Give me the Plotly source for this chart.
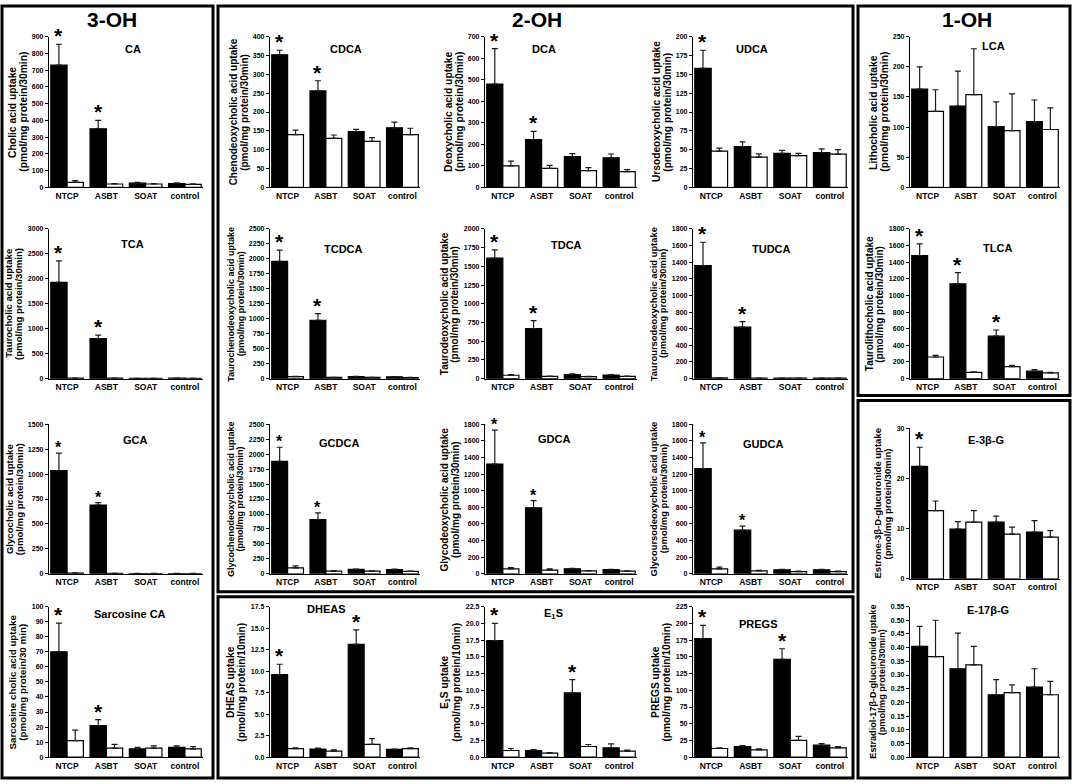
import plotly.graph_objects as go

categories = ["NTCP", "ASBT", "SOAT", "control"]

# ---- data: mean uptake (black = induced, white = non-induced) and SD ----
ca_ind = [730, 350, 25, 22];          ca_ind_err = [125, 50, 5, 5]
ca_non = [30, 20, 20, 18];            ca_non_err = [10, 3, 3, 3]
ca_star = [0, 1]

tca_ind = [1930, 800, 5, 8];          tca_ind_err = [430, 70, 2, 2]
tca_non = [10, 8, 5, 5];              tca_non_err = [2, 2, 1, 1]
tca_star = [0, 1]

gca_ind = [1035, 690, 3, 3];          gca_ind_err = [175, 25, 1, 1]
gca_non = [8, 5, 3, 3];               gca_non_err = [1, 1, 1, 1]
gca_star = [0, 1]

sca_ind = [70, 21, 5.5, 6.5];         sca_ind_err = [19, 4, 1, 1]
sca_non = [11, 6, 6, 5.5];            sca_non_err = [7, 2.5, 1.5, 1.5]
sca_star = [0, 1]

cdca_ind = [352, 256, 148, 158];      cdca_ind_err = [12, 27, 6, 15]
cdca_non = [140, 130, 122, 140];      cdca_non_err = [12, 9, 10, 17]
cdca_star = [0, 1]

dca_ind = [480, 222, 143, 137];       dca_ind_err = [165, 38, 14, 18]
dca_non = [100, 88, 78, 73];          dca_non_err = [22, 14, 14, 9]
dca_star = [0, 1]

udca_ind = [158, 54, 45, 46];         udca_ind_err = [24, 6.5, 4, 5]
udca_non = [48, 40, 42, 44];          udca_non_err = [4, 4.5, 3, 6]
udca_star = [0]

tcdca_ind = [1960, 975, 35, 30];      tcdca_ind_err = [185, 110, 5, 5]
tcdca_non = [35, 20, 20, 18];         tcdca_non_err = [5, 3, 3, 3]
tcdca_star = [0, 1]

tdca_ind = [1610, 670, 55, 48];       tdca_ind_err = [110, 105, 8, 6]
tdca_non = [45, 30, 28, 30];          tdca_non_err = [8, 4, 4, 4]
tdca_star = [0, 1]

tudca_ind = [1360, 620, 5, 5];        tudca_ind_err = [280, 65, 1, 1]
tudca_non = [10, 5, 5, 5];            tudca_non_err = [2, 1, 1, 1]
tudca_star = [0, 1]

gcdca_ind = [1880, 905, 75, 72];      gcdca_ind_err = [235, 115, 6, 6]
gcdca_non = [100, 45, 45, 40];        gcdca_non_err = [35, 8, 6, 6]
gcdca_star = [0, 1]

gdca_ind = [1320, 795, 60, 50];       gdca_ind_err = [410, 85, 5, 5]
gdca_non = [60, 45, 35, 32];          gdca_non_err = [15, 15, 4, 4]
gdca_star = [0, 1]

gudca_ind = [1265, 525, 48, 48];      gudca_ind_err = [310, 50, 5, 5]
gudca_non = [60, 35, 28, 28];         gudca_non_err = [20, 8, 4, 4]
gudca_star = [0, 1]

dheas_ind = [9.6, 0.95, 13.1, 0.9];   dheas_ind_err = [1.2, 0.1, 1.7, 0.05]
dheas_non = [1.0, 0.7, 1.5, 1.0];     dheas_non_err = [0.1, 0.15, 0.65, 0.1]
dheas_star = [0, 2]

e1s_ind = [17.4, 1.0, 9.6, 1.4];      e1s_ind_err = [2.6, 0.15, 2.0, 0.6]
e1s_non = [1.0, 0.6, 1.6, 0.9];       e1s_non_err = [0.3, 0.1, 0.3, 0.15]
e1s_star = [0, 2]

pregs_ind = [177, 16, 146, 18];       pregs_ind_err = [20, 1.5, 16, 2.5]
pregs_non = [13, 11, 25, 14];         pregs_non_err = [1, 1.5, 6, 2]
pregs_star = [0, 2]

lca_ind = [163, 135, 101, 109];       lca_ind_err = [37, 58, 41, 36]
lca_non = [126, 154, 94, 96];         lca_non_err = [36, 76, 61, 36]
lca_star = []

tlca_ind = [1480, 1140, 510, 90];     tlca_ind_err = [140, 135, 75, 20]
tlca_non = [260, 75, 145, 70];        tlca_non_err = [20, 5, 15, 5]
tlca_star = [0, 1, 2]

e3g_ind = [22.4, 9.9, 11.3, 9.3];     e3g_ind_err = [3.8, 1.5, 1.2, 2.3]
e3g_non = [13.6, 11.3, 8.9, 8.3];     e3g_non_err = [1.9, 2.3, 1.4, 1.3]
e3g_star = [0]

e17g_ind = [0.405, 0.323, 0.228, 0.256]; e17g_ind_err = [0.073, 0.13, 0.055, 0.067]
e17g_non = [0.367, 0.337, 0.236, 0.228]; e17g_non_err = [0.133, 0.068, 0.028, 0.049]
e17g_star = []

# ---- layout geometry (pixels) ----
W, H = 1072, 784
COLS = {"A": (49, 203), "B": (270, 420), "C": (485, 637), "D": (693, 848), "E": (910, 1060)}
ROWS = {1: (33, 185), 2: (227, 378), 3: (424, 575), 4: (608, 760), 5: (428, 580)}

U30 = "(pmol/mg protein/30min)"
U10 = "(pmol/mg protein/10min)"

panels = [
    # name, col, row, title, title px, ylabel lines, ymax, dtick, fmt, ytitle size, star size, data
    ("CA", "A", 1, "CA", (133, 45), ("Cholic acid uptake", U30), 900, 100, "d", 10.3, 21,
     ca_ind, ca_ind_err, ca_non, ca_non_err, ca_star),
    ("TCA", "A", 2, "TCA", (132, 242), ("Taurocholic acid uptake", U30), 3000, 500, "d", 9.6, 21,
     tca_ind, tca_ind_err, tca_non, tca_non_err, tca_star),
    ("GCA", "A", 3, "GCA", (135, 440), ("Glycocholic acid uptake", U30), 1500, 250, "d", 9.6, 16,
     gca_ind, gca_ind_err, gca_non, gca_non_err, gca_star),
    ("SCA", "A", 4, "Sarcosine CA", (130, 615), ("Sarcosine cholic acid uptake", "(pmol/mg protein/30 min)"),
     100, 10, "d", 9.8, 21, sca_ind, sca_ind_err, sca_non, sca_non_err, sca_star),
    ("CDCA", "B", 1, "CDCA", (346, 45), ("Chenodeoxycholic acid uptake", U30), 400, 50, "d", 10, 21,
     cdca_ind, cdca_ind_err, cdca_non, cdca_non_err, cdca_star),
    ("DCA", "C", 1, "DCA", (544, 45), ("Deoxycholic acid uptake", U30), 700, 100, "d", 10.3, 21,
     dca_ind, dca_ind_err, dca_non, dca_non_err, dca_star),
    ("UDCA", "D", 1, "UDCA", (752, 45), ("Ursodeoxycholic acid uptake", U30), 200, 25, "d", 10.2, 21,
     udca_ind, udca_ind_err, udca_non, udca_non_err, udca_star),
    ("TCDCA", "B", 2, "TCDCA", (343, 247), ("Taurochenodeoxycholic acid uptake", U30), 2500, 250, "d", 9, 21,
     tcdca_ind, tcdca_ind_err, tcdca_non, tcdca_non_err, tcdca_star),
    ("TDCA", "C", 2, "TDCA", (566, 243), ("Taurodeoxycholic acid uptake", U30), 2000, 250, "d", 10, 21,
     tdca_ind, tdca_ind_err, tdca_non, tdca_non_err, tdca_star),
    ("TUDCA", "D", 2, "TUDCA", (771, 247), ("Tauroursodeoxycholic acid uptake", U30), 1800, 200, "d", 9.4, 21,
     tudca_ind, tudca_ind_err, tudca_non, tudca_non_err, tudca_star),
    ("GCDCA", "B", 3, "GCDCA", (339, 443), ("Glycochenodeoxycholic acid uptake", U30), 2500, 250, "d", 9, 16,
     gcdca_ind, gcdca_ind_err, gcdca_non, gcdca_non_err, gcdca_star),
    ("GDCA", "C", 3, "GDCA", (554, 439), ("Glycodeoxycholic acid uptake", U30), 1800, 200, "d", 10, 16,
     gdca_ind, gdca_ind_err, gdca_non, gdca_non_err, gdca_star),
    ("GUDCA", "D", 3, "GUDCA", (763, 444), ("Glycoursodeoxycholic acid uptake", U30), 1800, 200, "d", 9.4, 16,
     gudca_ind, gudca_ind_err, gudca_non, gudca_non_err, gudca_star),
    ("DHEAS", "B", 4, "DHEAS", (326, 610), ("DHEAS uptake", U10), 17.5, 2.5, ".1f", 10.2, 21,
     dheas_ind, dheas_ind_err, dheas_non, dheas_non_err, dheas_star),
    ("E1S", "C", 4, "E<sub>1</sub>S", (553, 615), ("E<sub>1</sub>S uptake", U10), 22.5, 2.5, ".1f", 10.2, 21,
     e1s_ind, e1s_ind_err, e1s_non, e1s_non_err, e1s_star),
    ("PREGS", "D", 4, "PREGS", (758, 626), ("PREGS uptake", U10), 225, 25, "d", 10.2, 21,
     pregs_ind, pregs_ind_err, pregs_non, pregs_non_err, pregs_star),
    ("LCA", "E", 1, "LCA", (993, 42), ("Lithocholic acid uptake", U30), 250, 50, "d", 10.3, 21,
     lca_ind, lca_ind_err, lca_non, lca_non_err, lca_star),
    ("TLCA", "E", 2, "TLCA", (997, 246), ("Taurolithocholic acid uptake", U30), 1800, 200, "d", 10, 21,
     tlca_ind, tlca_ind_err, tlca_non, tlca_non_err, tlca_star),
    ("E3G", "E", 5, "E-3β-G", (986, 440), ("Estrone-3β-D-glucuronide uptake", U30), 30, 10, "d", 9.5, 21,
     e3g_ind, e3g_ind_err, e3g_non, e3g_non_err, e3g_star),
    ("E17G", "E", 4, "E-17β-G", (988, 611), ("Estradiol-17β-D-glucuronide uptake", U30), 0.55, 0.05, ".2f", 9.1, 21,
     e17g_ind, e17g_ind_err, e17g_non, e17g_non_err, e17g_star),
]

FONT = "Liberation Sans, Arial"
TICK_SIZE = 7
BARGAP = 0.17
xpos = list(range(len(categories)))

fig = go.Figure()
annotations = []


def px_x(p):
    return p / W


def px_y(p):
    return 1 - p / H


def label_width(s, size):
    return sum(0.278 if ch == "." else 0.556 for ch in s) * size


for k, (name, col, row, title, tpos, ylab, ymax, dtick, fmt, ysz, ssz,
        ind, ind_err, non, non_err, stars) in enumerate(panels, start=1):
    xa, ya = f"x{k}", f"y{k}"
    for vals, errs, fill in ((ind, ind_err, "black"), (non, non_err, "white")):
        fig.add_trace(go.Bar(
            x=xpos, y=vals, xaxis=xa, yaxis=ya, showlegend=False,
            marker=dict(color=fill, line=dict(color="black", width=1.2)),
            error_y=dict(type="data", array=errs, arrayminus=[0] * len(errs),
                         symmetric=False, color="#1a1a1a", thickness=1.2, width=3),
            offsetgroup=fill,
        ))
    c0, c1 = COLS[col]
    r0, r1 = ROWS[row]
    n = round(ymax / dtick)
    tv = [i * dtick for i in range(n + 1)]
    if fmt == "d":
        tt = [f"{v:g}" for v in tv]
    else:
        tt = [format(v, fmt) for v in tv]
    fig.update_layout(**{
        f"xaxis{k}": dict(domain=[px_x(c0), px_x(c1)], anchor=ya, range=[-0.46, 3.46],
                          tickvals=xpos, ticktext=categories, ticks="", showline=True,
                          linecolor="black", linewidth=1.3, showgrid=False, zeroline=False,
                          tickfont=dict(family=FONT, size=8.5, color="black", weight="bold")),
        f"yaxis{k}": dict(domain=[px_y(r1), px_y(r0)], anchor=xa, range=[0, ymax],
                          tickvals=tv, ticktext=tt, ticks="outside", ticklen=3, tickwidth=1,
                          tickcolor="black", showline=True, linecolor="black", linewidth=1.3,
                          showgrid=False, zeroline=False,
                          tickfont=dict(family=FONT, size=TICK_SIZE, color="black", weight="bold")),
    })
    # y-axis title: two rotated lines placed just left of the tick labels
    tickw = max(label_width(s, TICK_SIZE) for s in tt)
    off2 = tickw + 9.5 + 0.5 * ysz
    off1 = off2 + 1.05 * ysz
    ymid = px_y((r0 + r1) / 2)
    for line, off in ((ylab[0], off1), (ylab[1], off2)):
        annotations.append(dict(text=line, x=px_x(c0 - off), y=ymid, xref="paper", yref="paper",
                                textangle=-90, showarrow=False, xanchor="center", yanchor="middle",
                                font=dict(family=FONT, size=ysz, color="black", weight="bold")))
    annotations.append(dict(text=title, x=px_x(tpos[0]), y=px_y(tpos[1]), xref="paper", yref="paper",
                            showarrow=False, xanchor="center", yanchor="middle",
                            font=dict(family=FONT, size=11, color="black", weight="bold")))
    for i in stars:
        annotations.append(dict(text="*", x=i - (1 - BARGAP) / 4, y=ind[i] + ind_err[i],
                                xref=xa, yref=ya, showarrow=False, xanchor="center",
                                yanchor="bottom", yshift=-5,
                                font=dict(family=FONT, size=ssz, color="black", weight="bold")))

group_titles = [("3-OH", 112, 16), ("2-OH", 537, 16), ("1-OH", 967, 16)]
for txt, gx, gy in group_titles:
    annotations.append(dict(text=txt, x=px_x(gx), y=px_y(gy), xref="paper", yref="paper",
                            showarrow=False, xanchor="center", yanchor="middle",
                            font=dict(family=FONT, size=21, color="black", weight="bold")))

boxes = [(2, 2, 213, 781), (218, 2, 853, 593), (218, 598, 853, 781),
         (858, 2, 1070, 395), (858, 400, 1070, 781)]
shapes = [dict(type="rect", xref="paper", yref="paper", x0=px_x(a), y0=px_y(b), x1=px_x(c), y1=px_y(d),
               line=dict(color="black", width=3)) for a, b, c, d in boxes]

fig.update_layout(
    width=W, height=H, margin=dict(l=0, r=0, t=0, b=0),
    paper_bgcolor="white", plot_bgcolor="white",
    barmode="group", bargap=BARGAP, bargroupgap=0,
    annotations=annotations, shapes=shapes,
)

fig.write_html("out.html", config={"displayModeBar": False},
               post_script="document.body.style.margin='0';document.body.style.overflow='hidden';")
